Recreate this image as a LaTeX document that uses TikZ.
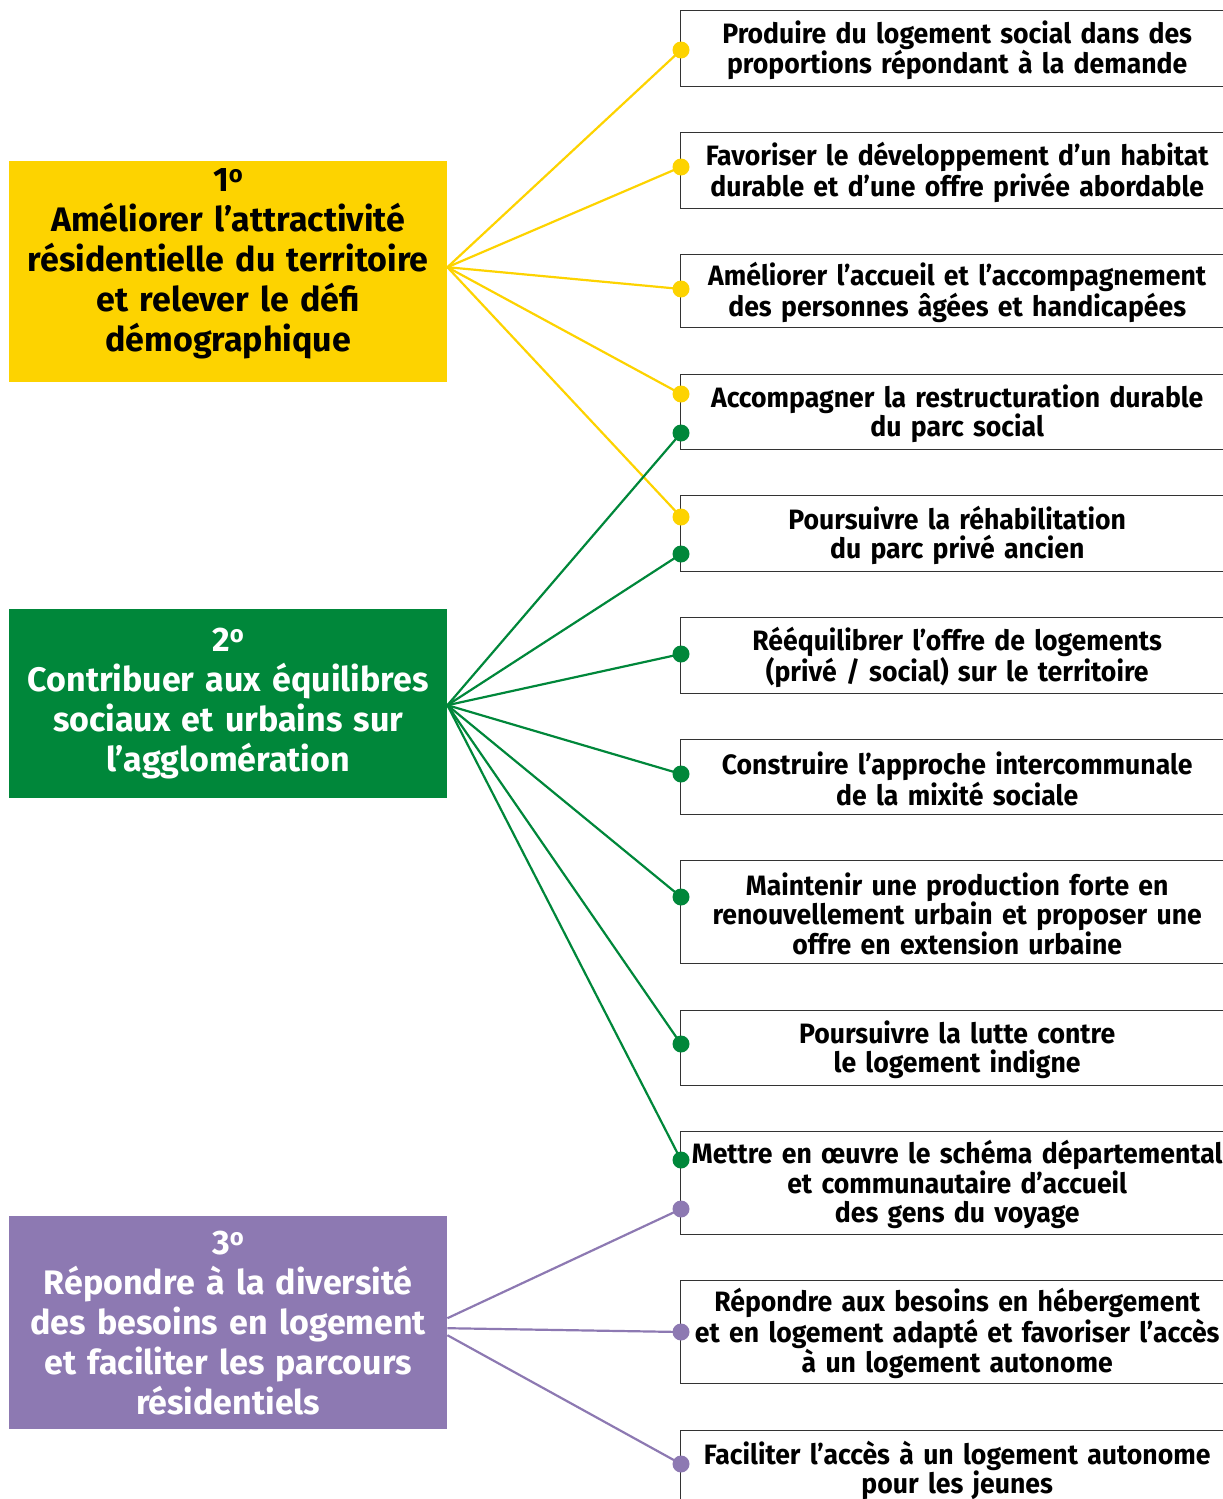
\documentclass[tikz,border=0pt]{standalone}
\usepackage{fontspec}
\setmainfont{Fira Sans}
\newfontfamily\rfont{Fira Sans}[FakeStretch=0.95]
\definecolor{cyel}{HTML}{FDD300}
\definecolor{cgrn}{HTML}{00873A}
\definecolor{cpur}{HTML}{8D79B2}
\definecolor{cbor}{HTML}{333333}
\begin{document}
\begin{tikzpicture}[x=1pt,y=-1pt,
  rframe/.style={draw=cbor,line width=1.4pt,anchor=north west,minimum width=553pt,inner sep=0pt},
  rtext/.style={text width=540pt,align=center,inner sep=0pt,
    font=\rfont\fontsize{28}{29.5}\selectfont\bfseries},
  lframe/.style={anchor=north west,minimum width=438pt,inner sep=0pt},
  ltext/.style={text width=436pt,align=center,inner sep=0pt,font=\fontsize{34}{40}\selectfont\bfseries},
  yl/.style={cyel,line width=2.2pt},
  gl/.style={cgrn,line width=2.2pt},
  pl/.style={cpur,line width=2.2pt}
]
\useasboundingbox (0,0) rectangle (1223,1499);
\newcommand\rbx[4]{%
  \node[rframe,minimum height=#3pt] (#1) at (680,#2) {};
  \node[rtext] (#1t) at ([yshift=-1.5pt]#1.center) {#4};}
% right boxes
\rbx{r1}{10}{76}{Produire du logement social dans des\\proportions répondant à la demande}
\rbx{r2}{132}{76}{Favoriser le développement d’un habitat\\durable et d’une offre privée abordable}
\rbx{r3}{254}{73}{Améliorer l’accueil et l’accompagnement\\des personnes âgées et handicapées}
\rbx{r4}{374}{75}{Accompagner la restructuration durable\\du parc social}
\rbx{r5}{495}{76}{Poursuivre la réhabilitation\\du parc privé ancien}
\rbx{r6}{617}{76}{Rééquilibrer l’offre de logements\\(privé / social) sur le territoire}
\rbx{r7}{739}{75}{Construire l’approche intercommunale\\de la mixité sociale}
\rbx{r8}{860}{103}{Maintenir une production forte en\\renouvellement urbain et proposer une\\offre en extension urbaine}
\rbx{r9}{1010}{75}{Poursuivre la lutte contre\\le logement indigne}
\rbx{r10}{1131}{103}{Mettre en œuvre le schéma départemental\\et communautaire d’accueil\\des gens du voyage}
\rbx{r11}{1280}{103}{Répondre aux besoins en hébergement\\et en logement adapté et favoriser l’accès\\à un logement autonome}
\rbx{r12}{1430}{76}{Faciliter l’accès à un logement autonome\\pour les jeunes}
% left boxes
\node[lframe,fill=cyel,minimum height=221pt] (l1) at (9,161) {};
\node[ltext,text=black] (l1t) at ([yshift=8pt]l1.center) {1\textsuperscript{o}\\Améliorer l’attractivité\\résidentielle du territoire\\et relever le défi\\démographique};
\node[lframe,fill=cgrn,minimum height=189pt] (l2) at (9,609) {};
\node[ltext,text=white] (l2t) at (l2.center) {2\textsuperscript{o}\\Contribuer aux équilibres\\sociaux et urbains sur\\l’agglomération};
\node[lframe,fill=cpur,minimum height=213pt] (l3) at (9,1216) {};
\node[ltext,text=white] (l3t) at (l3.center) {3\textsuperscript{o}\\Répondre à la diversité\\des besoins en logement\\et faciliter les parcours\\résidentiels};
% coordinates
\coordinate (sy) at ([yshift=4.5pt]l1.east);
\coordinate (sg) at ([yshift=-1.5pt]l2.east);
\coordinate (sp1) at ([yshift=4.5pt]l3.east);
\coordinate (sp2) at ([yshift=-5.5pt]l3.east);
\coordinate (sp3) at ([yshift=-12.5pt]l3.east);
\coordinate (y1) at (681,50);
\coordinate (y2) at (681,167);
\coordinate (y3) at (681,289);
\coordinate (y4) at (681,394);
\coordinate (y5) at (681,517);
\coordinate (g1) at (681,433);
\coordinate (g2) at (681,554);
\coordinate (g3) at (681,654);
\coordinate (g4) at (681,774);
\coordinate (g5) at (681,897);
\coordinate (g6) at (681,1044);
\coordinate (g7) at (681,1160);
\coordinate (p1) at (681,1209);
\coordinate (p2) at (681,1332);
\coordinate (p3) at (681,1464);
% connectors
\foreach \t in {y1,y2,y3,y4,y5} \draw[yl] (sy) -- (\t);
\foreach \t in {g1,g2,g3,g4,g5,g6,g7} \draw[gl] (sg) -- (\t);
\draw[pl] (sp1) -- (p1);
\draw[pl] (sp2) -- (p2);
\draw[pl] (sp3) -- (p3);
\foreach \t in {y1,y2,y3,y4,y5} \fill[cyel] (\t) circle (8.5);
\foreach \t in {g1,g2,g3,g4,g5,g6,g7} \fill[cgrn] (\t) circle (8.5);
\foreach \t in {p1,p2,p3} \fill[cpur] (\t) circle (8.5);
\end{tikzpicture}
\end{document}
